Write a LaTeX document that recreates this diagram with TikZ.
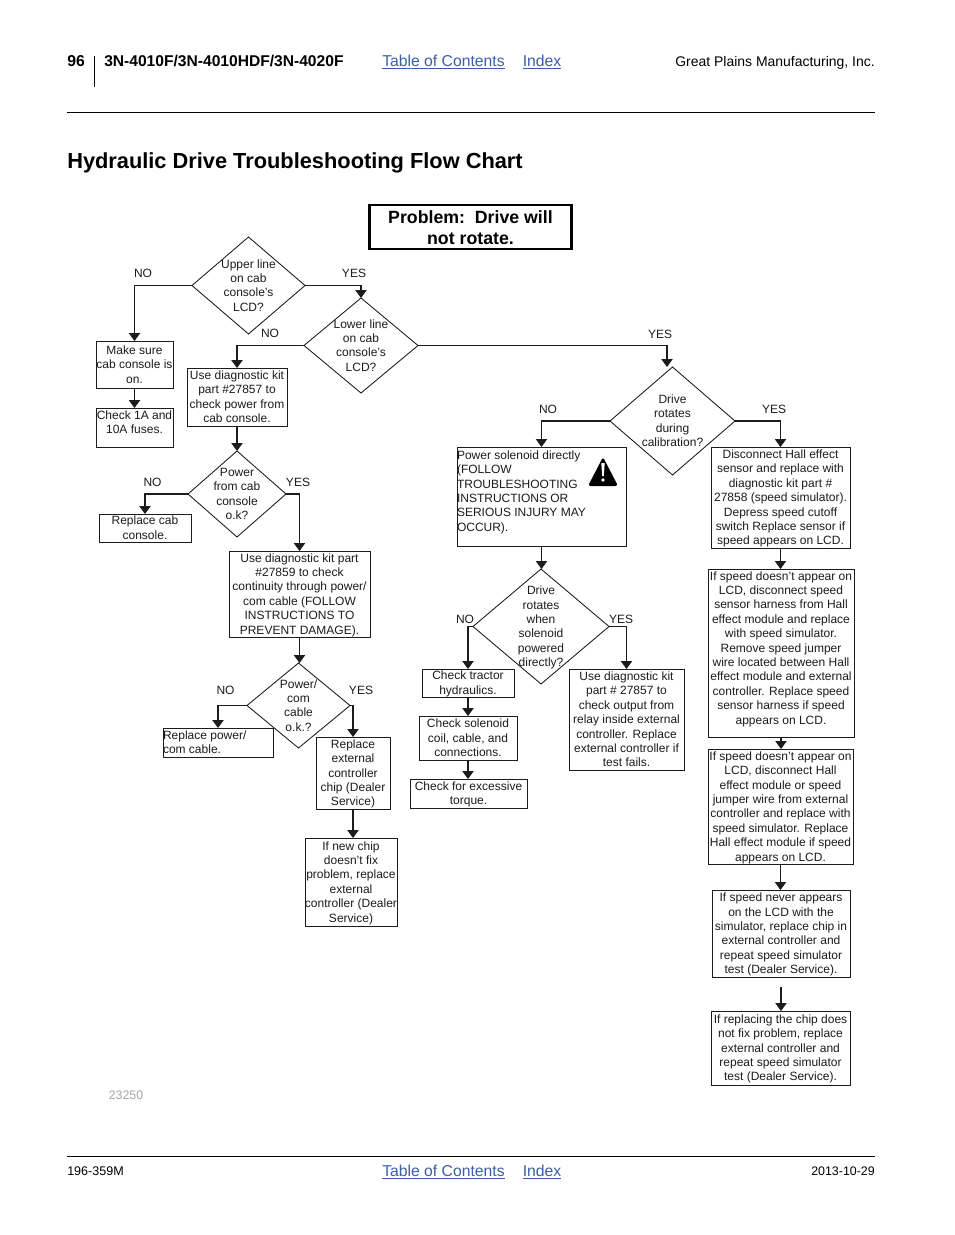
\documentclass[tikz,border=0pt]{standalone}
\usepackage{fontspec}
\setmainfont{Liberation Sans}
\usetikzlibrary{arrows.meta,shapes.geometric}
\definecolor{ink}{HTML}{1C1C1C}
\definecolor{linkblue}{HTML}{3A5FA8}
\newcommand{\ctx}[2][0]{\raisebox{\dimexpr-3.2pt+#1pt\relax}[0pt][0pt]{\makebox[0pt][c]{\begin{tabular}{@{}c@{}}#2\end{tabular}}}}
\newcommand{\ltx}[3][0]{\raisebox{\dimexpr-3.2pt+#1pt\relax}[0pt][0pt]{\makebox[#2pt][l]{\begin{tabular}{@{}l@{}}#3\end{tabular}}}}
\newcommand{\bx}[6]{\node[boxst,minimum width={(#4-#2)*0.75},minimum height={(#5-#3)*0.75}] (#1) at ({(#2+#4)/2},{(#3+#5)/2}) {#6};}
\newcommand{\dm}[6]{\node[dmst,minimum width={(#4-#2)*0.75},minimum height={(#5-#3)*0.75}] (#1) at ({(#2+#4)/2},{(#3+#5)/2}) {#6};}
\tikzset{
 boxst/.style={draw=ink,line width=0.75pt,inner sep=0pt,outer sep=0pt,fill=none,text=ink,font=\fontsize{9}{10.8}\selectfont},
 dmst/.style={boxst,shape=diamond,line width=0.65pt,aspect=1},
 arr/.style={draw=ink,line width=0.8pt,-{Triangle[width=8.5pt,length=6pt]}},
 lab/.style={text=ink,inner sep=0pt,font=\fontsize{9}{10.8}\selectfont},
 page/.style={anchor=base west,inner sep=0pt,text=black},
}
\begin{document}
\begin{tikzpicture}[x=0.75pt,y=-0.75pt]
\useasboundingbox (0,0) rectangle (954,1235);
\fill[white] (0,0) rectangle (954,1235);
% page furniture
\node[page,font=\bfseries\fontsize{11.8}{14}\selectfont] (pg) at (67,66) {96};
\node[page,font=\bfseries\fontsize{11.7}{14}\selectfont] (model) at (104,66) {3N-4010F/3N-4010HDF/3N-4020F};
\node[page,text=linkblue,font=\fontsize{11.8}{14}\selectfont] (toc) at (382,66) {\underline{Table of Contents}};
\node[page,text=linkblue,font=\fontsize{11.8}{14}\selectfont] (idx) at (522.5,66) {\underline{Index}};
\node[page,anchor=base east,font=\fontsize{10.47}{12}\selectfont] (gp) at (875,66) {Great Plains Manufacturing, Inc.};
\draw[line width=0.75pt] (94,56) -- (94,87);
\draw[line width=0.75pt] (67,112) -- (875,112);
\node[page,font=\bfseries\fontsize{16.35}{19}\selectfont] (head) at (67,168) {Hydraulic Drive Troubleshooting Flow Chart};
\draw[line width=0.6pt] (67,1156) -- (875,1156);
\node[page,font=\fontsize{9.4}{11}\selectfont] (doc) at (67,1175) {196-359M};
\node[page,text=linkblue,font=\fontsize{11.8}{14}\selectfont] (toc2) at (382,1176) {\underline{Table of Contents}};
\node[page,text=linkblue,font=\fontsize{11.8}{14}\selectfont] (idx2) at (522.5,1176) {\underline{Index}};
\node[page,anchor=base east,font=\fontsize{9.3}{11}\selectfont] (date) at (875,1175) {2013-10-29};
\node[page,text=black!35,font=\fontsize{9.3}{11}\selectfont] (fig) at (108.5,1099) {23250};
% title
\node[boxst,draw=black,line width=2.2pt,text=black,minimum width=152pt,minimum height=33pt,font=\bfseries\fontsize{13.3}{15.8}\selectfont] (title) at (470.5,227) {\ctx[-2.2]{Problem:\ \ Drive will\\not rotate.}};
% decisions
\dm{dA}{192}{237}{305}{334}{\ctx{Upper line\\on cab\\console's\\LCD?}}
\dm{dB}{304}{298}{418}{393}{\ctx{Lower line\\on cab\\console's\\LCD?}}
\dm{dC}{188}{451}{286}{537}{\ctx{Power\\from cab\\console\\o.k?}}
\dm{dD}{247}{663}{350}{748}{\ctx{Power/\\com\\cable\\o.k.?}}
\dm{dE}{610}{367}{735}{475}{\ctx{Drive\\rotates\\during\\calibration?}}
\dm{dF}{473}{569}{609}{684}{\ctx{Drive\\rotates\\when\\solenoid\\powered\\directly?}}
% action boxes, left
\bx{make}{96}{341}{173}{388}{\ctx{Make sure\\cab console is\\on.}}
\bx{fuse}{96}{408}{173}{447}{\ctx[3.7]{Check 1A and\\10A fuses.}}
\bx{kitA}{187}{368}{287}{426}{\ctx{Use diagnostic kit\\part \#27857 to\\check power from\\cab console.}}
\bx{cab}{99}{514}{191}{542}{\ctx{Replace cab\\console.}}
\bx{kitB}{229}{551}{370}{637}{\ctx{Use diagnostic kit part\\\#27859 to check\\continuity through power/\\com cable (FOLLOW\\INSTRUCTIONS TO\\PREVENT DAMAGE).}}
\bx{repl}{163}{728}{273}{757}{\ltx{82.5}{Replace power/\\com cable.}}
\bx{chip}{316}{737}{390}{809}{\ctx{Replace\\external\\controller\\chip (Dealer\\Service)}}
\bx{newc}{305}{838}{397}{926}{\ctx{If new chip\\doesn't fix\\problem, replace\\external\\controller (Dealer\\Service)}}
% centre
\bx{sole}{457}{447}{626}{546}{\ltx[4]{126.75}{Power solenoid directly\\(FOLLOW\\TROUBLESHOOTING\\INSTRUCTIONS OR\\SERIOUS INJURY MAY\\OCCUR).}}
\bx{trac}{422}{669}{514}{697}{\ctx{Check tractor\\hydraulics.}}
\bx{coil}{419}{716}{517}{760}{\ctx{Check solenoid\\coil, cable, and\\connections.}}
\bx{torq}{410}{779}{527}{808}{\ctx{Check for excessive\\torque.}}
\bx{kitC}{569}{669}{684}{770}{\ctx{Use diagnostic kit\\part \# 27857 to\\check output from\\relay inside external\\controller.  Replace\\external controller if\\test fails.}}
% right column
\bx{disc}{711}{447}{850}{548}{\ctx{Disconnect Hall effect\\sensor and replace with\\diagnostic kit part \#\\27858 (speed simulator).\\Depress speed cutoff\\switch  Replace sensor if\\speed appears on LCD.}}
\bx{spA}{708}{569}{854}{737}{\ctx[3.75]{If speed doesn't appear on\\LCD, disconnect speed\\sensor harness from Hall\\effect module and replace\\with speed simulator.\\Remove speed jumper\\wire located between Hall\\effect module and external\\controller.  Replace speed\\sensor harness if speed\\appears on LCD.}}
\bx{spB}{708}{749}{853}{864}{\ctx{If speed doesn't appear on\\LCD, disconnect Hall\\effect module or speed\\jumper wire from external\\controller and replace with\\speed simulator.  Replace\\Hall effect module if speed\\appears on LCD.}}
\bx{spC}{712}{890}{850}{977}{\ctx{If speed never appears\\on the LCD with the\\simulator, replace chip in\\external controller and\\repeat speed simulator\\test (Dealer Service).}}
\bx{spD}{711}{1011}{850}{1085}{\ctx{If replacing the chip does\\not fix problem, replace\\external controller and\\repeat speed simulator\\test (Dealer Service).}}
% warning sign
\fill[black,rounded corners=2pt] (603,457) -- (618,486) -- (588,486) -- cycle;
\fill[white] (601.3,463) -- (604.7,463) -- (603.8,476) -- (602.2,476) -- cycle;
\fill[white] (603,480) circle (1.9);
% free ends
\coordinate (tipE) at (667,367);
\coordinate (startD) at (781,987);
% connectors
\draw[arr] (dA.west) -| (make.north);
\draw[arr] (dA.east) -| (dB.north);
\draw[arr] (dB.west) -| (kitA.north);
\draw[arr] (dB.east) -| (tipE);
\draw[arr] (make.south) -- (make.south |- fuse.north);
\draw[arr] (kitA.south) -- (kitA.south |- dC.north);
\draw[arr] (dC.west) -| (cab.north);
\draw[arr] (dC.east) -| (kitB.north);
\draw[arr] (kitB.south) -- (kitB.south |- dD.north);
\draw[arr] (dD.west) -| (repl.north);
\draw[arr] (dD.east) -| (chip.north);
\draw[arr] (chip.south) -- (chip.south |- newc.north);
\draw[arr] (dE.west) -| (sole.north);
\draw[arr] (dE.east) -| (disc.north);
\draw[arr] (sole.south) -- (sole.south |- dF.north);
\draw[arr] (dF.west) -| (trac.north);
\draw[arr] (dF.east) -| (kitC.north);
\draw[arr] (trac.south) -- (trac.south |- coil.north);
\draw[arr] (coil.south) -- (coil.south |- torq.north);
\draw[arr] (disc.south) -- (disc.south |- spA.north);
\draw[arr] (spA.south) -- (spA.south |- spB.north);
\draw[arr] (spB.south) -- (spB.south |- spC.north);
\draw[arr] (startD) -- (startD |- spD.north);
% branch labels
\node[lab] (l1) at (143,273) {NO};
\node[lab] (l2) at (354,273) {YES};
\node[lab] (l3) at (270,333) {NO};
\node[lab] (l4) at (660,334) {YES};
\node[lab] (l5) at (548,409) {NO};
\node[lab] (l6) at (774,409) {YES};
\node[lab] (l7) at (152.5,482) {NO};
\node[lab] (l8) at (298,482) {YES};
\node[lab] (l9) at (225.5,690) {NO};
\node[lab] (l10) at (361,690) {YES};
\node[lab] (l11) at (465,619) {NO};
\node[lab] (l12) at (621,619) {YES};
\end{tikzpicture}
\end{document}
